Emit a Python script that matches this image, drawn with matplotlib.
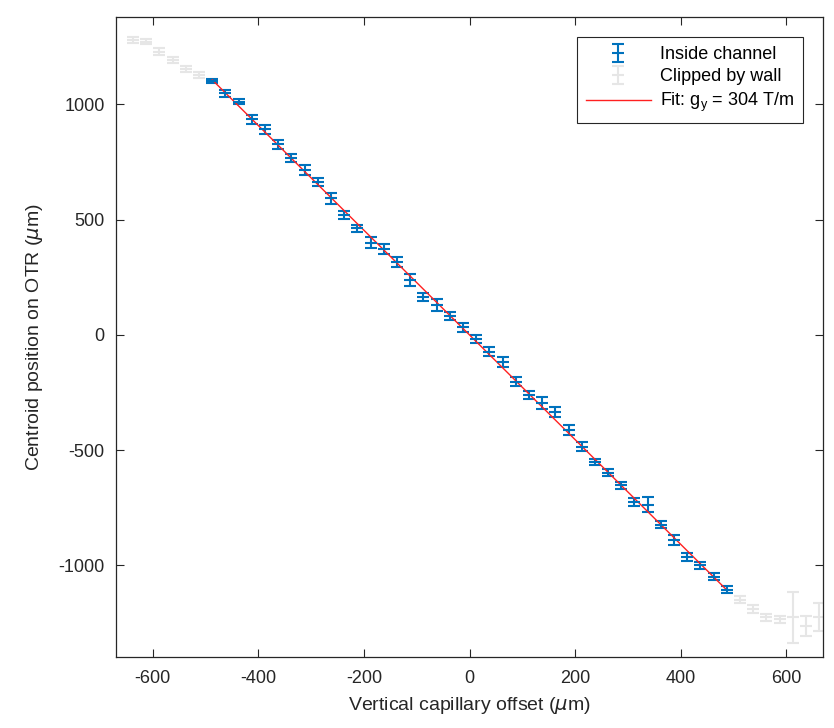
import numpy as np
import matplotlib
matplotlib.use("Agg")
import matplotlib.pyplot as plt

plt.rcParams['font.family'] = ['Liberation Sans', 'DejaVu Sans']
plt.rcParams['axes.unicode_minus'] = False

# Datos (offset en um, centroide en um)
x_dentro = [-487.5, -462.5, -437.5, -412.5, -387.5, -362.5, -337.5, -312.5, -287.5, -262.5,
            -237.5, -212.5, -187.5, -162.5, -137.5, -112.5, -87.5, -62.5, -37.5, -12.5,
            12.5, 37.5, 62.5, 87.5, 112.5, 137.5, 162.5, 187.5, 212.5, 237.5,
            262.5, 287.5, 312.5, 337.5, 362.5, 387.5, 412.5, 437.5, 462.5, 487.5]
y_dentro = [1101, 1048, 1011, 935, 891, 826, 766, 715, 664, 592,
            520, 462, 400, 371, 317, 238, 163, 129, 82, 32,
            -18, -73, -117, -203, -261, -297, -334, -413, -485, -552,
            -598, -652, -724, -738, -825, -890, -963, -999, -1049, -1107]
err_dentro = [8, 15, 10, 20, 18, 18, 18, 22, 18, 25,
              18, 15, 22, 22, 22, 25, 18, 25, 18, 18,
              18, 20, 22, 18, 18, 25, 22, 22, 18, 12,
              15, 15, 18, 33, 15, 20, 18, 15, 15, 15]

x_pared = [-637.5, -612.5, -587.5, -562.5, -537.5, -512.5,
           512.5, 537.5, 562.5, 587.5, 612.5, 637.5, 662.5]
y_pared = [1279, 1272, 1228, 1192, 1152, 1127,
           -1150, -1191, -1226, -1234, -1226, -1263, -1223]
err_pared = [12, 12, 15, 15, 12, 15,
             15, 18, 15, 15, 112, 43, 61]

# Ajuste lineal sobre los puntos dentro del canal
coef = np.polyfit(x_dentro, y_dentro, 1)
x_fit = np.array([x_dentro[0], x_dentro[-1]])
y_fit = np.polyval(coef, x_fit)

fig = plt.figure(figsize=(8.34, 7.28), dpi=100)
ax = fig.add_axes([0.139, 0.0975, 0.848, 0.879])

azul = '#0072BD'
gris = '#e6e6e6'

h_gris = ax.errorbar(x_pared, y_pared, yerr=err_pared, fmt='_', color=gris, ms=9, mew=1.5,
                     ecolor=gris, elinewidth=1.5, capsize=4.5, capthick=1.5)
h_azul = ax.errorbar(x_dentro, y_dentro, yerr=err_dentro, fmt='_', color=azul, ms=9, mew=1.5,
                     ecolor=azul, elinewidth=1.5, capsize=4.5, capthick=1.5)
h_fit, = ax.plot(x_fit, y_fit, color='#ff2020', lw=1)

ax.set_xlim(-670, 670)
ax.set_ylim(-1398, 1378)
ax.set_xticks([-600, -400, -200, 0, 200, 400, 600])
ax.set_yticks([-1000, -500, 0, 500, 1000])
ax.tick_params(direction='in', top=True, right=True, length=6, labelsize=13,
               colors='#262626')
ax.tick_params(axis='x', pad=9)
ax.tick_params(axis='y', pad=8)
for s in ax.spines.values():
    s.set_color('#262626')
    s.set_linewidth(0.9)

ax.set_xlabel(r'Vertical capillary offset ($\mu$m)', fontsize=14, color='#262626', labelpad=6)
ax.set_ylabel(r'Centroid position on OTR ($\mu$m)', fontsize=14, color='#262626', labelpad=10)

leg = ax.legend([h_azul, h_gris, h_fit],
                ['Inside channel', 'Clipped by wall', r'Fit: g$_\mathregular{y}$ = 304 T/m'],
                loc='upper right', fontsize=13, fancybox=False, framealpha=1,
                edgecolor='#262626', borderaxespad=1.1, handlelength=3.6,
                labelspacing=0.3, handletextpad=0.5, borderpad=0.5)
leg.get_frame().set_linewidth(0.8)

fig.savefig('out.png', dpi=100)
